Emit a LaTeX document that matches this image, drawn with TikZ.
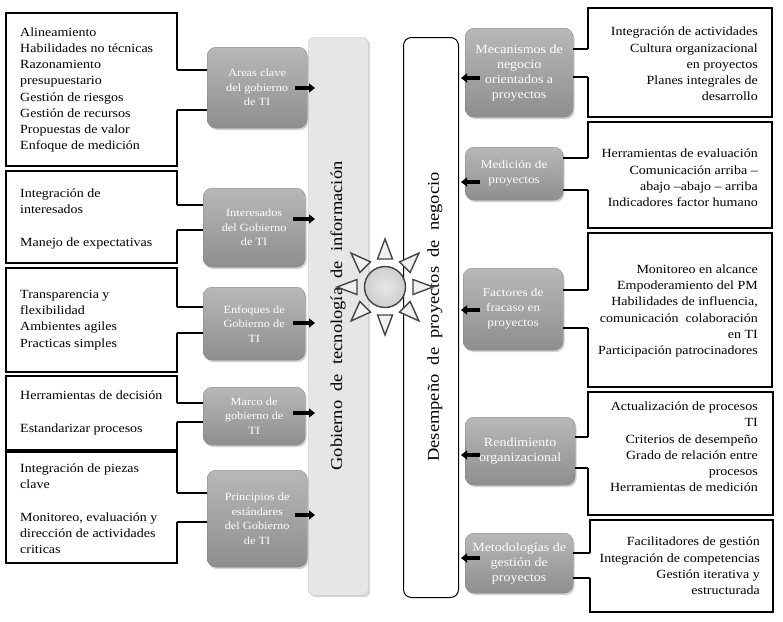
\documentclass[tikz,border=0pt]{standalone}
\usepackage{fontspec}
\setmainfont{Liberation Serif}[FakeStretch=1.12]
\usetikzlibrary{shadows,calc,arrows.meta}
\definecolor{gtop}{HTML}{B8B8B8}
\definecolor{gbot}{HTML}{8E8E8E}
\definecolor{barfill}{HTML}{E6E6E6}
\definecolor{sunfill}{HTML}{CFCFCF}
\definecolor{sunline}{HTML}{444444}
\begin{document}
\begin{tikzpicture}[x=1pt,y=-1pt,
  frame/.style={draw=none,inner sep=0pt,anchor=north west},
  outline/.style={line width=2pt,black,line join=miter},
  conn/.style={line width=2pt,black},
  gbox/.style={rounded corners=9pt,top color=gtop,bottom color=gbot,draw=gbot!90!black,line width=0.3pt,
    drop shadow={opacity=0.35,shadow xshift=1.5pt,shadow yshift=-2pt},
    text=white,align=center,inner sep=2pt,anchor=north west,
    font=\fontsize{11}{14.5}\selectfont},
  gbig/.style={font=\fontsize{12.5}{15}\selectfont},
  gmid/.style={font=\fontsize{11.8}{15}\selectfont},
  lbar/.style={rounded corners=6pt,fill=barfill,draw=gray!40,line width=0.4pt,
    drop shadow={opacity=0.3,shadow xshift=2pt,shadow yshift=-2pt},inner sep=0pt,anchor=north west},
  rbar/.style={rounded corners=8pt,fill=white,draw=black,line width=1pt,inner sep=0pt,anchor=north west},
  ltext/.style={align=left,inner sep=0pt,anchor=west,font=\fontsize{12.5}{16.2}\selectfont},
  rtext/.style={align=right,inner sep=0pt,anchor=east,font=\fontsize{12.5}{16.2}\selectfont},
  vtext/.style={rotate=90,inner sep=0pt,font=\fontsize{16.5}{18}\selectfont},
  arr/.style={-{Triangle[length=6pt,width=9pt]},line width=3.6pt,black},
  ray/.style={draw=sunline,fill=white!88!gray,line width=1.4pt,line join=miter},
  sun/.style={circle,draw=sunline,line width=1.4pt,inner color=white!80!gray,outer color=sunfill,minimum size=41pt,inner sep=0pt}
]
\useasboundingbox[fill=white] (0,0) rectangle (783,621);

% central bars
\node[lbar,minimum width=60pt,minimum height=558pt] (B1) at (308,37) {};
\node[rbar,minimum width=55pt,minimum height=560pt] (B2) at (403,37) {};
\node[vtext] (VT1) at (338,316) {Gobierno\ \ de\ \ tecnología\ \ de\ \ información};
\node[vtext] (VT2) at (435,317) {Desempeño\ \ de\ \ proyectos\ \ de\ \ negocio};

% sun
\foreach \a in {0,45,...,315}{
  \begin{scope}[shift={(385,287)},rotate=\a]
    \draw[ray] (28,-7.5) -- (48,0) -- (28,7.5) -- cycle;
  \end{scope}
}
\node[sun] (S) at (385,287) {};

% left gray boxes
\node[gbox,minimum width=100pt,minimum height=81pt] (G1) at (207,47) {Areas clave\\del gobierno\\de TI};
\node[gbox,minimum width=102pt,minimum height=79pt] (G2) at (203,188) {Interesados\\del Gobierno\\de TI};
\node[gbox,minimum width=102pt,minimum height=73pt] (G3) at (203,287) {Enfoques de\\Gobierno de\\TI};
\node[gbox,minimum width=102pt,minimum height=58pt] (G4) at (203,387) {Marco de\\gobierno de\\TI};
\node[gbox,minimum width=100pt,minimum height=97pt] (G5) at (207,470) {Principios de\\estándares\\del Gobierno\\de TI};

% right gray boxes
\node[gbox,gbig,minimum width=108pt,minimum height=89pt] (R1) at (465,28) {Mecanismos de\\negocio\\orientados a\\proyectos};
\node[gbox,gmid,minimum width=98pt,minimum height=53pt] (R2) at (465,147) {Medición de\\proyectos};
\node[gbox,gmid,minimum width=100pt,minimum height=82pt] (R3) at (463,268) {Factores de\\fracaso en\\proyectos};
\node[gbox,gbig,minimum width=110pt,minimum height=68pt] (R4) at (465,417) {Rendimiento\\organizacional};
\node[gbox,gbig,minimum width=108pt,minimum height=60pt] (R5) at (465,533) {Metodologías de\\gestión de\\proyectos};

% left text boxes
\node[frame,minimum width=171pt,minimum height=153pt] (L1) at (6,13) {};
\node[frame,minimum width=171pt,minimum height=92pt] (L2) at (6,171) {};
\node[frame,minimum width=171pt,minimum height=104pt] (L3) at (6,268) {};
\node[frame,minimum width=171pt,minimum height=74pt] (L4) at (6,376) {};
\node[frame,minimum width=171pt,minimum height=111pt] (L5) at (6,452) {};

\draw[outline] (L1.east|-0,70) |- (L1.north west) |- (L1.south east) -- (L1.east|-0,110);
\draw[outline] (L2.east|-0,205) |- (L2.north west) |- (L2.south east) -- (L2.east|-0,230);
\draw[outline] (L3.east|-0,307) |- (L3.north west) |- (L3.south east) -- (L3.east|-0,333);
\draw[outline] (L4.east|-0,403) |- (L4.north west) |- (L4.south east) -- (L4.east|-0,422);
\draw[outline] (L5.east|-0,493) |- (L5.north west) |- (L5.south east) -- (L5.east|-0,522);

\draw[conn] (L1.east|-0,70) -- (G1.west|-0,70);
\draw[conn] (L1.east|-0,110) -- (G1.west|-0,110);
\draw[conn] (L2.east|-0,205) -- (G2.west|-0,205);
\draw[conn] (L2.east|-0,230) -- (G2.west|-0,230);
\draw[conn] (L3.east|-0,307) -- (G3.west|-0,307);
\draw[conn] (L3.east|-0,333) -- (G3.west|-0,333);
\draw[conn] (L4.east|-0,403) -- (G4.west|-0,403);
\draw[conn] (L4.east|-0,422) -- (G4.west|-0,422);
\draw[conn] (L5.east|-0,493) -- (G5.west|-0,493);
\draw[conn] (L5.east|-0,522) -- (G5.west|-0,522);

\node[ltext] (T1) at (20,90) {Alineamiento\\Habilidades no técnicas\\Razonamiento\\presupuestario\\Gestión de riesgos\\Gestión de recursos\\Propuestas de valor\\Enfoque de medición};
\node[ltext] (T2) at (20,219) {Integración de\\interesados\\[16.2pt]Manejo de expectativas};
\node[ltext] (T3) at (20,320) {Transparencia y\\flexibilidad\\Ambientes agiles\\Practicas simples};
\node[ltext] (T4) at (20,413) {Herramientas de decisión\\[16.2pt]Estandarizar procesos};
\node[ltext] (T5) at (20,509) {Integración de piezas\\clave\\[16.2pt]Monitoreo, evaluación y\\dirección de actividades\\criticas};

% right text boxes
\node[frame,minimum width=184pt,minimum height=109pt] (Q1) at (588,8) {};
\node[frame,minimum width=184pt,minimum height=106pt] (Q2) at (588,122) {};
\node[frame,minimum width=184pt,minimum height=154pt] (Q3) at (588,233) {};
\node[frame,minimum width=185pt,minimum height=123pt] (Q4) at (588,392) {};
\node[frame,minimum width=183pt,minimum height=92pt] (Q5) at (590,520) {};

\draw[outline] (Q1.west|-0,49) |- (Q1.north east) |- (Q1.south west) -- (Q1.west|-0,77);
\draw[outline] (Q2.west|-0,158) |- (Q2.north east) |- (Q2.south west) -- (Q2.west|-0,190);
\draw[outline] (Q3.west|-0,290) |- (Q3.north east) |- (Q3.south west) -- (Q3.west|-0,328);
\draw[outline] (Q4.west|-0,437) |- (Q4.north east) |- (Q4.south west) -- (Q4.west|-0,468);
\draw[outline] (Q5.west|-0,553) |- (Q5.north east) |- (Q5.south west) -- (Q5.west|-0,578);

\draw[conn] (R1.east|-0,49) -- (Q1.west|-0,49);
\draw[conn] (R1.east|-0,77) -- (Q1.west|-0,77);
\draw[conn] (R2.east|-0,158) -- (Q2.west|-0,158);
\draw[conn] (R2.east|-0,190) -- (Q2.west|-0,190);
\draw[conn] (R3.east|-0,290) -- (Q3.west|-0,290);
\draw[conn] (R3.east|-0,328) -- (Q3.west|-0,328);
\draw[conn] (R4.east|-0,437) -- (Q4.west|-0,437);
\draw[conn] (R4.east|-0,468) -- (Q4.west|-0,468);
\draw[conn] (R5.east|-0,553) -- (Q5.west|-0,553);
\draw[conn] (R5.east|-0,578) -- (Q5.west|-0,578);

\node[rtext] (U1) at (758,64) {Integración de actividades\\Cultura organizacional\\en proyectos\\Planes integrales de\\desarrollo};
\node[rtext] (U2) at (758,178) {Herramientas de evaluación\\Comunicación arriba –\\abajo –abajo – arriba\\Indicadores factor humano};
\node[rtext] (U3) at (758,311) {Monitoreo en alcance\\Empoderamiento del PM\\Habilidades de influencia,\\comunicación\ \ colaboración\\en TI\\Participación patrocinadores};
\node[rtext] (U4) at (758,447) {Actualización de procesos\\TI\\Criterios de desempeño\\Grado de relación entre\\procesos\\Herramientas de medición};
\node[rtext] (U5) at (760,566) {Facilitadores de gestión\\Integración de competencias\\Gestión iterativa y\\estructurada};

% arrows
\draw[arr] ($(G1.east|-0,88)+(-12,0)$) -- ($(B1.west|-0,88)+(7,0)$);
\draw[arr] ($(G2.east|-0,219)+(-12,0)$) -- ($(B1.west|-0,219)+(7,0)$);
\draw[arr] ($(G3.east|-0,323)+(-12,0)$) -- ($(B1.west|-0,323)+(7,0)$);
\draw[arr] ($(G4.east|-0,413)+(-12,0)$) -- ($(B1.west|-0,413)+(7,0)$);
\draw[arr] ($(G5.east|-0,515)+(-12,0)$) -- ($(B1.west|-0,515)+(7,0)$);

\draw[arr] ($(R1.west|-0,78)+(15,0)$) -- ($(B2.east|-0,78)+(2,0)$);
\draw[arr] ($(R2.west|-0,182)+(15,0)$) -- ($(B2.east|-0,182)+(2,0)$);
\draw[arr] ($(R3.west|-0,310)+(17,0)$) -- ($(B2.east|-0,310)+(2,0)$);
\draw[arr] ($(R4.west|-0,455)+(15,0)$) -- ($(B2.east|-0,455)+(2,0)$);
\draw[arr] ($(R5.west|-0,558)+(15,0)$) -- ($(B2.east|-0,558)+(2,0)$);
\end{tikzpicture}
\end{document}
